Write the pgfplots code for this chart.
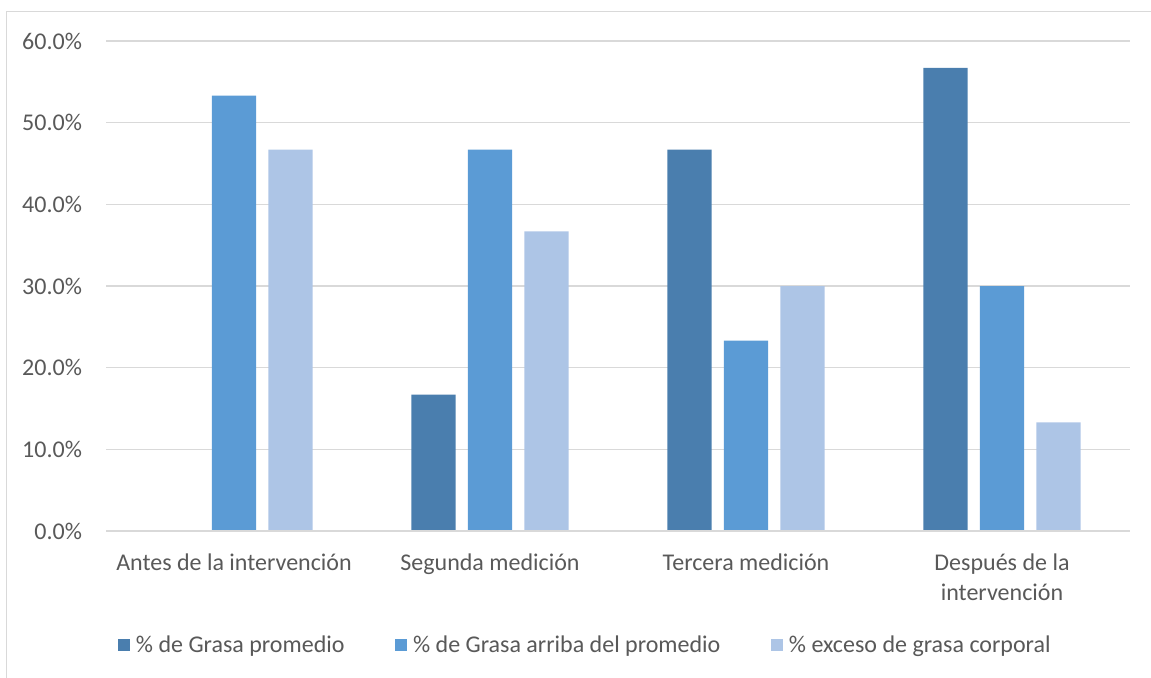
\documentclass[border=0pt]{standalone}
\usepackage{pgfplots}
\pgfplotsset{compat=1.18}
\usepackage{fontspec}
\setmainfont{Carlito}

\definecolor{cDark}{HTML}{4A7EAE}
\definecolor{cMid}{HTML}{5B9BD5}
\definecolor{cLight}{HTML}{ADC5E6}
\definecolor{cText}{HTML}{595959}
\definecolor{cGrid}{HTML}{D9D9D9}

\pgfplotstableread{
x promedio arriba exceso
0 0    53.3 46.7
1 16.7 46.7 36.7
2 46.7 23.3 30.0
3 56.7 30.0 13.3
}\datos

\begin{document}
\begin{tikzpicture}
% page size and outer chart frame (1px = 0.5pt)
\useasboundingbox (0pt,0pt) rectangle (575.5pt,338.5pt);
\draw[cGrid, line width=0.9pt] (3.25pt,-5pt) -- (3.25pt,332.75pt) -- (580pt,332.75pt);
\begin{axis}[
  at={(53pt,73pt)}, anchor=south west,
  scale only axis, width=512pt, height=245pt,
  xmin=-0.5, xmax=3.5, ymin=0, ymax=60,
  ybar, bar width=0.172,
  axis line style={draw=none},
  ytick={0,10,...,60},
  yticklabel={\pgfmathprintnumber[fixed,fixed zerofill,precision=1]{\tick}\%},
  /pgf/number format/assume math mode=true,
  ymajorgrids, grid style={cGrid, line width=0.8pt},
  major tick length=0pt,
  xtick={0,1,2,3},
  xticklabels={Antes de la intervención, Segunda medición, Tercera medición, {Después de la\\intervención}},
  xticklabel style={align=center, font=\fontsize{12}{15}\selectfont, text=cText, yshift=-8pt},
  yticklabel style={font=\fontsize{12}{13}\selectfont, text=cText, xshift=-8.5pt},
  legend columns=3,
  legend style={draw=none, at={(0.0117,-0.233)}, anchor=west,
    font=\fontsize{12}{13}\selectfont, text=cText,
    /tikz/every odd column/.style={column sep=0.8pt},
    /tikz/every even column/.style={column sep=23.5pt},
    inner sep=0pt},
  legend image code/.code={\fill[#1] (0pt,-3pt) rectangle (6pt,3pt);},
  every axis plot/.append style={draw=none},
  clip=false,
]
\addplot[fill=cDark, bar shift=-0.2207] table[x=x,y=promedio] {\datos};
\addplot[fill=cMid, bar shift=0] table[x=x,y=arriba] {\datos};
\addplot[fill=cLight, bar shift=0.2207] table[x=x,y=exceso] {\datos};
\legend{\% de Grasa promedio, \% de Grasa arriba del promedio, \% exceso de grasa corporal}
\draw[cGrid, line width=0.9pt] (rel axis cs:0,0) -- (rel axis cs:1,0);
\end{axis}
\end{tikzpicture}
\end{document}
